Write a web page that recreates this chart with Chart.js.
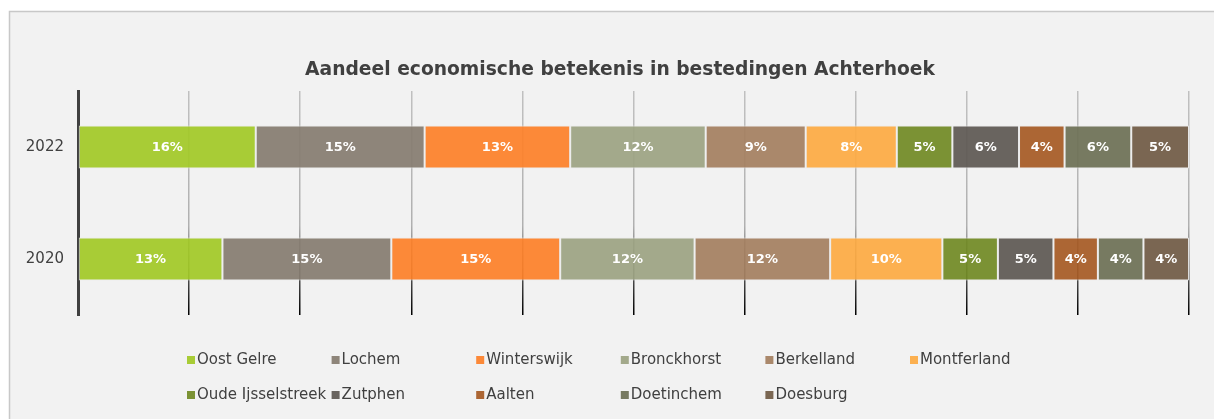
<!DOCTYPE html>
<html>
<head>
<meta charset="utf-8">
<script src="https://cdn.jsdelivr.net/npm/chart.js@4/dist/chart.umd.min.js"></script>
<style>
  html, body { margin: 0; padding: 0; background: #fff; }
  #wrap { width: 1214px; height: 419px; }
</style>
</head>
<body>
<div id="wrap"><canvas id="myChart" width="1214" height="419"></canvas></div>
<script>
// categories (years) and municipalities
var years = ['2022', '2020'];
var gemeenten = ['Oost Gelre', 'Lochem', 'Winterswijk', 'Bronckhorst', 'Berkelland', 'Montferland',
                 'Oude Ijsselstreek', 'Zutphen', 'Aalten', 'Doetinchem', 'Doesburg'];

// share per municipality in %
var aandeel2022 = [16.0, 15.2, 13.1, 12.2, 9.0, 8.2, 5.0, 6.0, 4.1, 6.0, 5.2];
var aandeel2020 = [13.0, 15.2, 15.2, 12.1, 12.2, 10.1, 5.0, 5.0, 4.0, 4.1, 4.1];

var kleuren = ['rgba(162,201,38,0.92)', 'rgba(133,124,112,0.92)', 'rgba(253,128,40,0.92)',
               'rgba(156,163,130,0.92)', 'rgba(164,127,95,0.92)', 'rgba(253,170,66,0.92)',
               'rgba(113,138,36,0.92)', 'rgba(93,88,82,0.92)', 'rgba(166,90,36,0.92)',
               'rgba(109,112,85,0.92)', 'rgba(112,90,68,0.92)'];

var titel = 'Aandeel economische betekenis in bestedingen Achterhoek';
var fontFam = '"DejaVu Sans", sans-serif';

var datasets = gemeenten.map(function(naam, i){
    return {
        label: naam,
        data: [aandeel2022[i], aandeel2020[i]],
        backgroundColor: kleuren[i],
        borderColor: 'rgba(235,235,235,0.9)',
        borderWidth: 1,
        borderSkipped: false,
        barPercentage: 0.77,
        categoryPercentage: 0.5
    };
});

// background box + title
var boxPlugin = {
    id: 'box',
    beforeDraw: function(chart){
        var ctx = chart.ctx;
        ctx.save();
        ctx.fillStyle = '#ffffff';
        ctx.fillRect(0, 0, chart.width, chart.height);
        ctx.fillStyle = '#f2f2f2';
        ctx.fillRect(9, 11, chart.width, chart.height);
        ctx.strokeStyle = '#c8c8c8';
        ctx.lineWidth = 1.5;
        ctx.beginPath();
        ctx.moveTo(9.5, chart.height + 2);
        ctx.lineTo(9.5, 11.5);
        ctx.lineTo(chart.width + 2, 11.5);
        ctx.stroke();
        ctx.fillStyle = '#404040';
        ctx.font = 'bold 18.7px ' + fontFam;
        ctx.textAlign = 'center';
        ctx.textBaseline = 'middle';
        ctx.fillText(titel, 620, 70);
        ctx.restore();
    }
};

// percentage labels inside the segments
var labelPlugin = {
    id: 'labels',
    afterDatasetsDraw: function(chart){
        var ctx = chart.ctx;
        ctx.save();
        ctx.fillStyle = '#ffffff';
        ctx.font = 'bold 13px ' + fontFam;
        ctx.textAlign = 'center';
        ctx.textBaseline = 'middle';
        chart.data.datasets.forEach(function(ds, i){
            chart.getDatasetMeta(i).data.forEach(function(bar, j){
                var p = bar.getCenterPoint();
                ctx.fillText(Math.round(ds.data[j]) + '%', p.x, p.y + 1);
            });
        });
        ctx.restore();
    }
};

// legend in a fixed grid of 6 columns
var legendPlugin = {
    id: 'gridLegend',
    afterDraw: function(chart){
        var ctx = chart.ctx;
        ctx.save();
        ctx.font = '15px ' + fontFam;
        ctx.textBaseline = 'middle';
        chart.data.datasets.forEach(function(ds, i){
            var col = i % 6, row = Math.floor(i / 6);
            var x = 187 + col * 144.6;
            var y = 359 + row * 35;
            ctx.fillStyle = ds.backgroundColor;
            ctx.fillRect(x, y - 3, 8, 8);
            ctx.fillStyle = '#404040';
            ctx.fillText(ds.label, x + 10, y + 1);
        });
        ctx.restore();
    }
};

var ctx = document.getElementById('myChart').getContext('2d');
var chart = new Chart(ctx, {
    type: 'bar',
    data: { labels: years, datasets: datasets },
    options: {
        indexAxis: 'y',
        responsive: false,
        animation: false,
        layout: { padding: { left: 10, right: 25, top: 91, bottom: 104 } },
        plugins: {
            legend: { display: false },
            tooltip: { enabled: false },
            title: { display: false }
        },
        scales: {
            x: {
                stacked: true,
                min: 0,
                max: 100,
                ticks: { display: false, stepSize: 10 },
                border: { display: false },
                grid: {
                    drawTicks: false,
                    lineWidth: 1.5,
                    color: function(c){
                        var area = c.chart.chartArea;
                        if (!area) return '#bfbfbf';
                        var g = c.chart.ctx.createLinearGradient(0, area.top, 0, area.bottom);
                        g.addColorStop(0, '#c0c0c0');
                        g.addColorStop(0.6, '#b0b0b0');
                        g.addColorStop(0.8, '#606060');
                        g.addColorStop(1, '#000000');
                        return g;
                    }
                }
            },
            y: {
                stacked: true,
                afterFit: function(scale){ scale.width = 68; },
                ticks: { color: '#404040', font: { family: fontFam, size: 15 }, padding: 14 },
                grid: { display: false, drawTicks: false },
                border: { display: true, color: '#404040', width: 3 }
            }
        }
    },
    plugins: [boxPlugin, labelPlugin, legendPlugin]
});
</script>
</body>
</html>
